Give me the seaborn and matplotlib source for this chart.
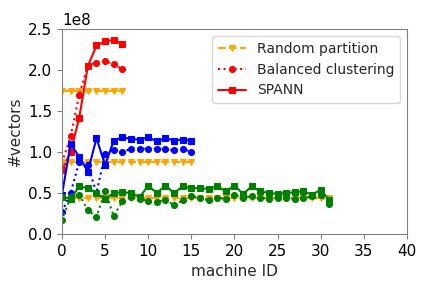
import numpy as np
import pandas as pd
import matplotlib
matplotlib.use("Agg")
import matplotlib.pyplot as plt
import seaborn as sns

# values in units of 1e8 vectors
random_8 = [1.75] * 8
random_16 = [0.875] * 16
random_32 = [0.44] * 32

balanced_8 = [0.87, 1.19, 1.70, 2.05, 2.09, 2.11, 2.07, 2.01]
balanced_16 = [0.27, 0.50, 0.88, 0.84, 0.50, 0.98, 1.03, 1.00,
               1.04, 1.04, 1.04, 1.04, 1.04, 1.02, 1.04, 1.00]
balanced_32 = [0.17, 0.45, 0.48, 0.29, 0.21, 0.52, 0.22, 0.40,
               0.45, 0.43, 0.40, 0.39, 0.42, 0.35, 0.41, 0.46,
               0.44, 0.41, 0.44, 0.43, 0.48, 0.44, 0.46, 0.44,
               0.43, 0.44, 0.44, 0.43, 0.44, 0.46, 0.47, 0.37]

spann_8 = [0.78, 1.00, 1.42, 2.05, 2.30, 2.35, 2.37, 2.32]
spann_16 = [0.48, 1.10, 0.94, 0.76, 1.17, 0.84, 1.14, 1.18,
            1.16, 1.15, 1.18, 1.13, 1.17, 1.14, 1.15, 1.14]
spann_32 = [0.45, 0.43, 0.58, 0.56, 0.50, 0.43, 0.50, 0.51,
            0.50, 0.45, 0.59, 0.50, 0.59, 0.50, 0.58, 0.56,
            0.56, 0.55, 0.58, 0.52, 0.59, 0.49, 0.58, 0.52,
            0.50, 0.49, 0.50, 0.51, 0.52, 0.48, 0.54, 0.41]

group_colors = ["red", "blue", "green"]


def draw(ax, values, color, style, marker, label=None):
    x = np.arange(len(values))
    y = np.array(values) * 1e8
    sns.lineplot(x=x, y=y, ax=ax, color=color, linestyle=style, marker=marker,
                 markersize=4.3, markeredgecolor=color, markeredgewidth=0.8,
                 linewidth=1.5, label=label, legend=label is not None)


def main():
    sns.set_style("ticks")
    plt.rcParams['font.family'] = ['DejaVu Sans']
    plt.rcParams['axes.edgecolor'] = '#808080'
    plt.rcParams['xtick.color'] = '#808080'
    plt.rcParams['ytick.color'] = '#808080'
    plt.rcParams['xtick.labelcolor'] = 'black'
    plt.rcParams['ytick.labelcolor'] = 'black'

    fig = plt.figure(figsize=(4.32, 2.88), dpi=100)
    ax = fig.add_axes([0.1435, 0.1875, 0.7985, 0.7115])

    randoms = [random_8, random_16, random_32]
    balanced = [balanced_8, balanced_16, balanced_32]
    spann = [spann_8, spann_16, spann_32]

    for i, color in enumerate(group_colors):
        first = i == 0
        draw(ax, randoms[i], "orange", "--", "v", "Random partition" if first else None)
        draw(ax, balanced[i], color, ":", "o", "Balanced clustering" if first else None)
        draw(ax, spann[i], color, "-", "s", "SPANN" if first else None)

    ax.set_xlim(0, 40)
    ax.set_ylim(0, 2.5e8)
    ax.set_xticks(range(0, 41, 5))
    ax.set_yticks(np.arange(0, 2.51e8, 0.5e8))
    ax.tick_params(labelsize=11)
    ax.yaxis.get_offset_text().set_fontsize(11)
    ax.set_xlabel("machine ID", fontsize=11)
    ax.set_ylabel("#vectors", fontsize=11)

    ax.legend(loc="upper right", fontsize=10, frameon=True, handlelength=2.0)

    fig.savefig("out.png", dpi=100)


if __name__ == "__main__":
    main()
